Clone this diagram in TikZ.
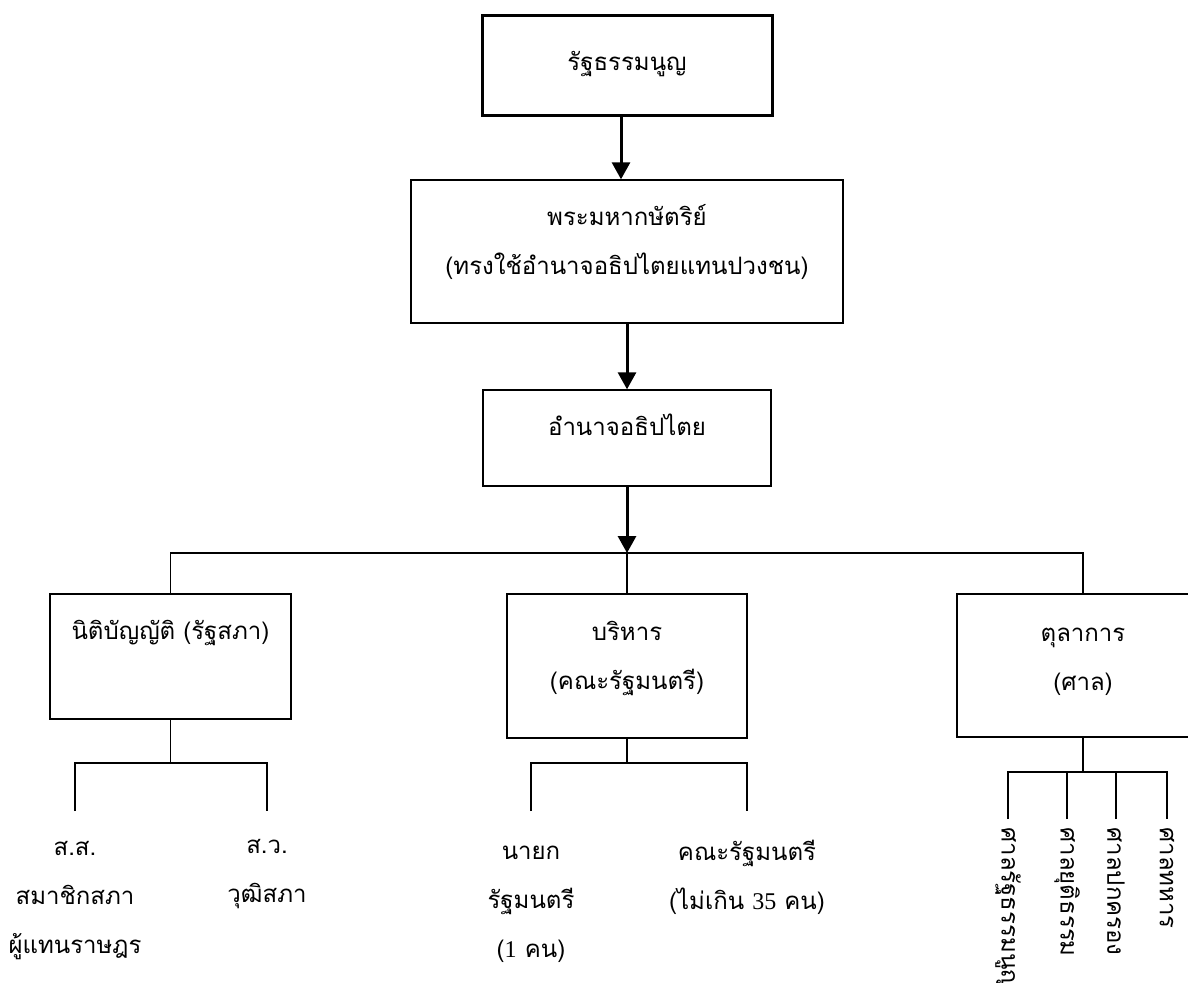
\documentclass[tikz,border=0pt]{standalone}
\usepackage{fontspec}
\newfontfamily\thaifont[Script=Thai]{Loma}
\newfontfamily\latinfont{Liberation Serif}
\usetikzlibrary{arrows.meta}
\tikzset{Box/.style={
    draw=black,
    line width=0.7pt,
    inner sep=0pt,
    align=center,
    text height=10pt,
    },
  Leaf/.style={
    align=center,
    anchor=north,
    inner sep=3pt,
    text depth=2pt,
    },
  Court/.style={rotate=-90, anchor=west, inner sep=4pt},
  Flow/.style={line width=1.5pt, -{Triangle[length=8.5pt,width=9pt]}},
  Wire/.style={line width=0.7pt},
}

\begin{document}
\begin{tikzpicture}[x=0.5pt, y=-0.5pt,
    font=\thaifont\fontsize{12pt}{24.5pt}\selectfont,
]
\useasboundingbox (0,0) rectangle (1188,982);
% top of the chart
\node [Box, line width=1.5pt, minimum width=145pt, minimum height=50pt, text depth=4.8pt] (cons) at (627,65) {รัฐธรรมนูญ};
\node [Box, minimum width=216pt, minimum height=71.5pt, text height=24.7pt, text depth=2pt] (king) at (627,251.5) {พระมหากษัตริย์\\(ทรงใช้อำนาจอธิปไตยแทนปวงชน)};
\node [Box, minimum width=144pt, minimum height=48pt, text depth=12.8pt] (power) at (627,438) {อำนาจอธิปไตย};
\draw [Flow] ([xshift=-3pt]cons.south) -- ([xshift=-3pt]king.north);
\draw [Flow] (king.south) -- (power.north);
\coordinate (bus) at (627,553);
\draw [Flow] (power.south) -- (bus);
% the three powers
\node [Box, minimum width=120.5pt, minimum height=62.5pt, text depth=27.3pt] (leg) at (170.5,656.5) {นิติบัญญัติ (รัฐสภา)};
\node [Box, minimum width=120pt, minimum height=72pt, text height=25.2pt, text depth=2pt] (exe) at (627,666) {บริหาร\\(คณะรัฐมนตรี)};
\node [Box, minimum width=126pt, minimum height=71.5pt, text height=26.7pt, text depth=2pt] (jud) at (1083,665.5) {ตุลาการ\\(ศาล)};
\draw [Wire] (leg.north) |- (bus) -| (jud.north);
\draw [Wire] (bus) -- (exe.north);
% legislative
\coordinate (legfork) at (170.5,763);
\node [Leaf, text height=68pt] (ss) at (75,811) {ส.ส.\\สมาชิกสภา\\ผู้แทนราษฎร};
\node [Leaf, text height=42.6pt] (sv) at (267,811) {ส.ว.\\วุฒิสภา};
\draw [Wire] (leg.south) -- (legfork);
\draw [Wire] (ss.north) |- (legfork) -| (sv.north);
% executive
\coordinate (exefork) at (627,763);
\node [Leaf, text height=70pt] (pm) at (531,811) {นายก\\รัฐมนตรี\\({\latinfont 1} คน)};
\node [Leaf, text height=46.1pt] (cab) at (747,811) {คณะรัฐมนตรี\\(ไม่เกิน {\latinfont 35} คน)};
\draw [Wire] (exe.south) -- (exefork);
\draw [Wire] (pm.north) |- (exefork) -| (cab.north);
% judicial
\coordinate (judfork) at (1083,772);
\node [Court] (c1) at (1008,819) {ศาลรัฐธรรมนูญ};
\node [Court] (c2) at (1067,819) {ศาลยุติธรรม};
\node [Court] (c3) at (1116,819) {ศาลปกครอง};
\node [Court] (c4) at (1167,819) {ศาลทหาร};
\draw [Wire] (jud.south) -- (judfork);
\draw [Wire] (c1.west) |- (judfork) -| (c4.west);
\draw [Wire] (c2.west) -- (c2.west |- judfork);
\draw [Wire] (c3.west) -- (c3.west |- judfork);
\end{tikzpicture}
\end{document}
